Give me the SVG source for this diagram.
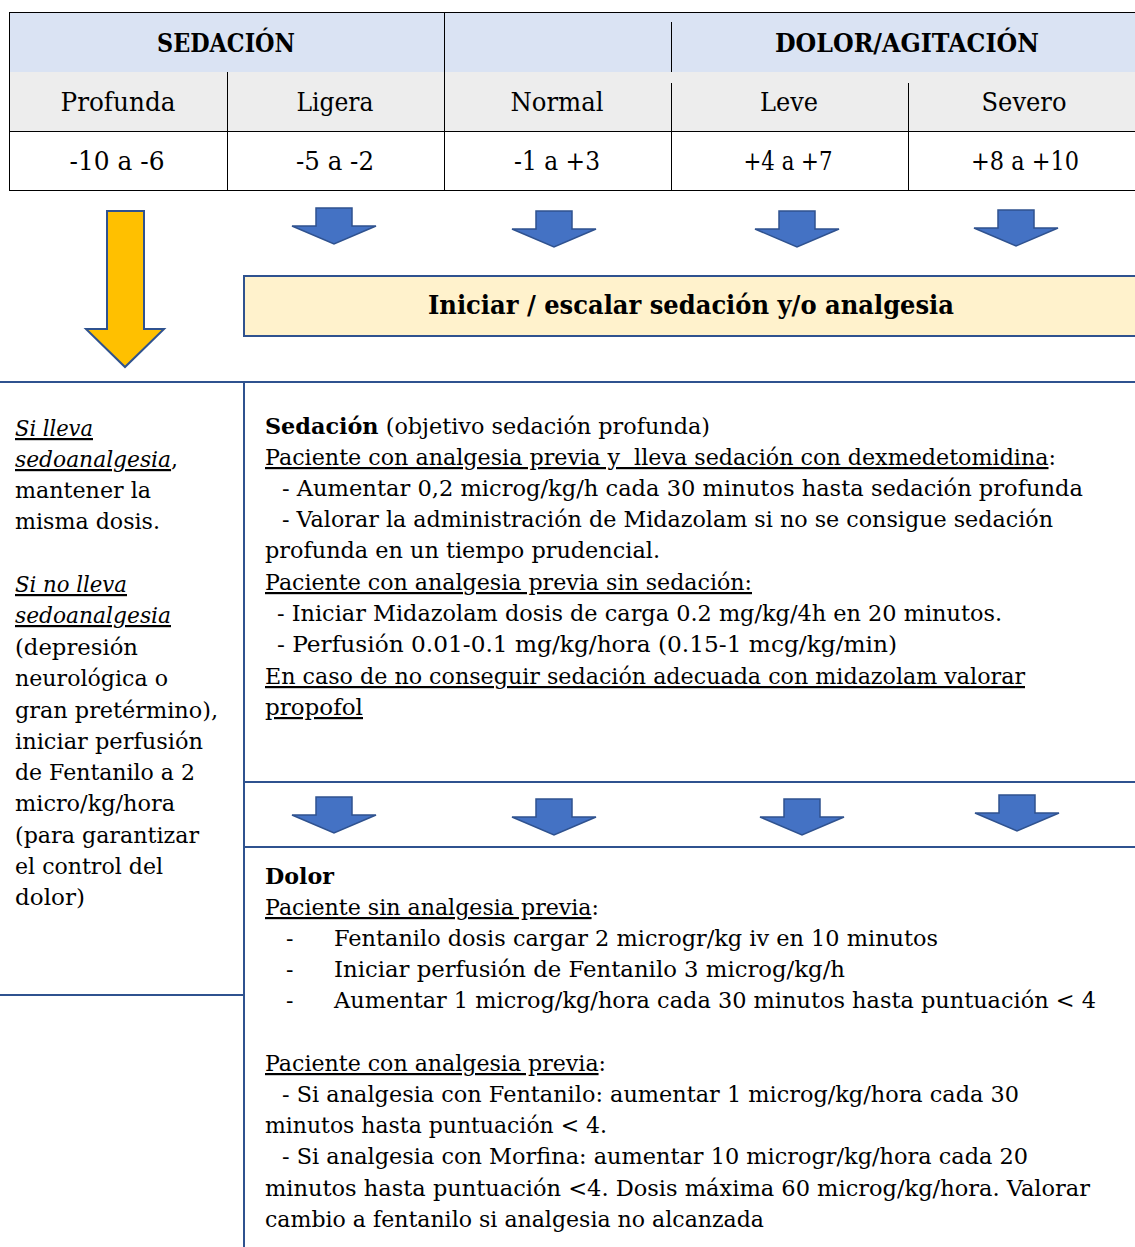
<svg xmlns="http://www.w3.org/2000/svg" xmlns:xlink="http://www.w3.org/1999/xlink" width="1135" height="1247" viewBox="0 0 1135 1247">
<style>
text{font-family:"DejaVu Serif","Liberation Serif",serif;fill:#000;}
.h{font-size:26px;font-weight:bold;text-anchor:middle;}
.c{font-size:26px;text-anchor:middle;}
.t{font-size:22px;}
.b{font-weight:bold;}
.u{text-decoration:underline;}
.i{font-style:italic;}
.tl{stroke:#000;stroke-width:1;fill:none;}
.bl{stroke:#2F528F;stroke-width:2;fill:none;}
.ba{fill:#4472C4;stroke:#2F528F;stroke-width:1.5;}
</style>
<defs>
<path id="barrow" d="M-18,0 H18 V18 H42 L0,36 L-42,18 H-18 Z"/>
</defs>
<rect width="1135" height="1247" fill="#fff"/>

<g id="table">
<rect x="10" y="12" width="1130" height="60" fill="#DAE3F3"/>
<rect x="10" y="72" width="1130" height="59" fill="#EDEDED"/>
<rect x="9.5" y="12.5" width="1130" height="178" class="tl"/>
<line x1="10" y1="131.5" x2="1135" y2="131.5" class="tl"/>
<line x1="227.5" y1="72" x2="227.5" y2="190" class="tl"/>
<line x1="444.5" y1="12" x2="444.5" y2="190" class="tl"/>
<line x1="671.5" y1="22" x2="671.5" y2="72" class="tl"/>
<line x1="671.5" y1="83" x2="671.5" y2="190" class="tl"/>
<line x1="908.5" y1="83" x2="908.5" y2="190" class="tl"/>
<text class="h" x="226" y="52" textLength="138" lengthAdjust="spacingAndGlyphs">SEDACIÓN</text>
<text class="h" x="907" y="52" textLength="264" lengthAdjust="spacingAndGlyphs">DOLOR/AGITACIÓN</text>
<text class="c" x="118" y="111" textLength="115" lengthAdjust="spacingAndGlyphs">Profunda</text>
<text class="c" x="335" y="111" textLength="77" lengthAdjust="spacingAndGlyphs">Ligera</text>
<text class="c" x="557" y="111" textLength="93" lengthAdjust="spacingAndGlyphs">Normal</text>
<text class="c" x="789" y="111" textLength="58" lengthAdjust="spacingAndGlyphs">Leve</text>
<text class="c" x="1024" y="111" textLength="85" lengthAdjust="spacingAndGlyphs">Severo</text>
<text class="c" x="117" y="170" textLength="95" lengthAdjust="spacingAndGlyphs">-10 a -6</text>
<text class="c" x="335" y="170" textLength="78" lengthAdjust="spacingAndGlyphs">-5 a -2</text>
<text class="c" x="557" y="170" textLength="86" lengthAdjust="spacingAndGlyphs">-1 a +3</text>
<text class="c" x="788" y="170" textLength="89" lengthAdjust="spacingAndGlyphs">+4 a +7</text>
<text class="c" x="1025" y="170" textLength="108" lengthAdjust="spacingAndGlyphs">+8 a +10</text>
</g>

<g id="connectors">
<path d="M107,211 H144 V329 H164 L125,367 L86,329 H107 Z" fill="#FFC000" stroke="#2F528F" stroke-width="2"/>
<use href="#barrow" x="334" y="208" class="ba"/>
<use href="#barrow" x="554" y="211" class="ba"/>
<use href="#barrow" x="797" y="211" class="ba"/>
<use href="#barrow" x="1016" y="210" class="ba"/>
<use href="#barrow" x="334" y="797" class="ba"/>
<use href="#barrow" x="554" y="799" class="ba"/>
<use href="#barrow" x="802" y="799" class="ba"/>
<use href="#barrow" x="1017" y="795" class="ba"/>
</g>

<g id="iniciar">
<rect x="244" y="276" width="900" height="60" fill="#FFF2CC" stroke="#2F528F" stroke-width="2"/>
<text class="h" x="691" y="314" textLength="526" lengthAdjust="spacingAndGlyphs">Iniciar / escalar sedación y/o analgesia</text>
</g>

<g id="left-box">
<line x1="0" y1="382" x2="244" y2="382" class="bl"/>
<line x1="0" y1="995" x2="244" y2="995" class="bl"/>
<text class="t" x="15" y="436" textLength="78" lengthAdjust="spacingAndGlyphs"><tspan class="i u">Si lleva</tspan></text>
<text class="t" x="15" y="467" textLength="163" lengthAdjust="spacingAndGlyphs"><tspan class="i u">sedoanalgesia</tspan>,</text>
<text class="t" x="15" y="498" textLength="136" lengthAdjust="spacingAndGlyphs">mantener la</text>
<text class="t" x="15" y="529" textLength="145" lengthAdjust="spacingAndGlyphs">misma dosis.</text>
<text class="t" x="15" y="592" textLength="112" lengthAdjust="spacingAndGlyphs"><tspan class="i u">Si no lleva</tspan></text>
<text class="t" x="15" y="623" textLength="156" lengthAdjust="spacingAndGlyphs"><tspan class="i u">sedoanalgesia</tspan></text>
<text class="t" x="15" y="655" textLength="123" lengthAdjust="spacingAndGlyphs">(depresión</text>
<text class="t" x="15" y="686" textLength="153" lengthAdjust="spacingAndGlyphs">neurológica o</text>
<text class="t" x="15" y="718" textLength="203" lengthAdjust="spacingAndGlyphs">gran pretérmino),</text>
<text class="t" x="15" y="749" textLength="188" lengthAdjust="spacingAndGlyphs">iniciar perfusión</text>
<text class="t" x="15" y="780" textLength="180" lengthAdjust="spacingAndGlyphs">de Fentanilo a 2</text>
<text class="t" x="15" y="811" textLength="160" lengthAdjust="spacingAndGlyphs">micro/kg/hora</text>
<text class="t" x="15" y="843" textLength="184" lengthAdjust="spacingAndGlyphs">(para garantizar</text>
<text class="t" x="15" y="874" textLength="148" lengthAdjust="spacingAndGlyphs">el control del</text>
<text class="t" x="15" y="905" textLength="70" lengthAdjust="spacingAndGlyphs">dolor)</text>
</g>

<g id="sedacion-box">
<line x1="244" y1="382" x2="1135" y2="382" class="bl"/>
<line x1="244" y1="381" x2="244" y2="1247" class="bl"/>
<line x1="244" y1="782" x2="1135" y2="782" class="bl"/>
<text class="t" x="265" y="434" textLength="445" lengthAdjust="spacingAndGlyphs"><tspan class="b">Sedación</tspan> (objetivo sedación profunda)</text>
<text class="t" x="265" y="465" textLength="791" lengthAdjust="spacingAndGlyphs" xml:space="preserve"><tspan class="u">Paciente con analgesia previa y  lleva sedación con dexmedetomidina</tspan>:</text>
<text class="t" x="282" y="496" textLength="801" lengthAdjust="spacingAndGlyphs">- Aumentar 0,2 microg/kg/h cada 30 minutos hasta sedación profunda</text>
<text class="t" x="282" y="527" textLength="771" lengthAdjust="spacingAndGlyphs">- Valorar la administración de Midazolam si no se consigue sedación</text>
<text class="t" x="265" y="558" textLength="395" lengthAdjust="spacingAndGlyphs">profunda en un tiempo prudencial.</text>
<text class="t" x="265" y="590" textLength="487" lengthAdjust="spacingAndGlyphs"><tspan class="u">Paciente con analgesia previa sin sedación:</tspan></text>
<text class="t" x="277" y="621" textLength="725" lengthAdjust="spacingAndGlyphs">- Iniciar Midazolam dosis de carga 0.2 mg/kg/4h en 20 minutos.</text>
<text class="t" x="277" y="652" textLength="620" lengthAdjust="spacingAndGlyphs">- Perfusión 0.01-0.1 mg/kg/hora (0.15-1 mcg/kg/min)</text>
<text class="t" x="265" y="684" textLength="760" lengthAdjust="spacingAndGlyphs"><tspan class="u">En caso de no conseguir sedación adecuada con midazolam valorar</tspan></text>
<text class="t" x="265" y="715" textLength="98" lengthAdjust="spacingAndGlyphs"><tspan class="u">propofol</tspan></text>
</g>

<g id="dolor-box">
<line x1="244" y1="847" x2="1135" y2="847" class="bl"/>
<text class="t b" x="265" y="884" textLength="69" lengthAdjust="spacingAndGlyphs">Dolor</text>
<text class="t" x="265" y="915" textLength="334" lengthAdjust="spacingAndGlyphs"><tspan class="u">Paciente sin analgesia previa</tspan>:</text>
<text class="t" x="286" y="946">-</text>
<text class="t" x="334" y="946" textLength="604" lengthAdjust="spacingAndGlyphs">Fentanilo dosis cargar 2 microgr/kg iv en 10 minutos</text>
<text class="t" x="286" y="977">-</text>
<text class="t" x="334" y="977" textLength="511" lengthAdjust="spacingAndGlyphs">Iniciar perfusión de Fentanilo 3 microg/kg/h</text>
<text class="t" x="286" y="1008">-</text>
<text class="t" x="334" y="1008" textLength="762" lengthAdjust="spacingAndGlyphs">Aumentar 1 microg/kg/hora cada 30 minutos hasta puntuación &lt; 4</text>
<text class="t" x="265" y="1071" textLength="341" lengthAdjust="spacingAndGlyphs"><tspan class="u">Paciente con analgesia previa</tspan>:</text>
<text class="t" x="282" y="1102" textLength="737" lengthAdjust="spacingAndGlyphs">- Si analgesia con Fentanilo: aumentar 1 microg/kg/hora cada 30</text>
<text class="t" x="265" y="1133" textLength="342" lengthAdjust="spacingAndGlyphs">minutos hasta puntuación &lt; 4.</text>
<text class="t" x="282" y="1164" textLength="746" lengthAdjust="spacingAndGlyphs">- Si analgesia con Morfina: aumentar 10 microgr/kg/hora cada 20</text>
<text class="t" x="265" y="1196" textLength="825" lengthAdjust="spacingAndGlyphs">minutos hasta puntuación &lt;4. Dosis máxima 60 microg/kg/hora. Valorar</text>
<text class="t" x="265" y="1227" textLength="499" lengthAdjust="spacingAndGlyphs">cambio a fentanilo si analgesia no alcanzada</text>
</g>
</svg>
